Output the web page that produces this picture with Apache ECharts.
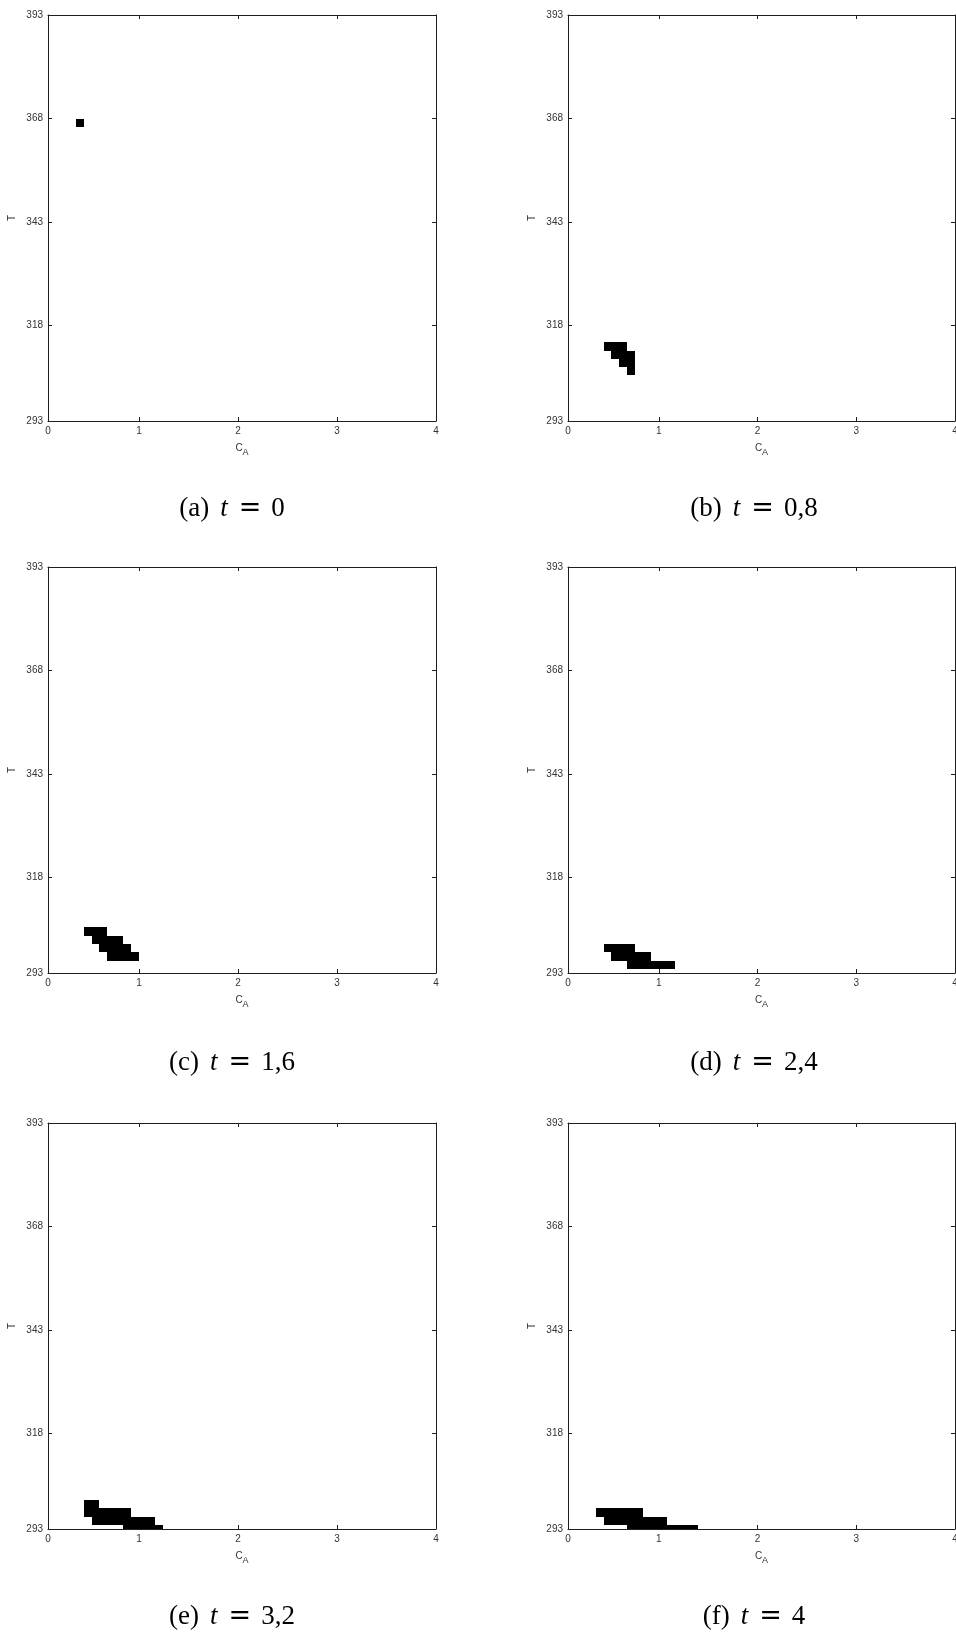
<!DOCTYPE html>
<html>
<head>
<meta charset="utf-8">
<script src="https://cdn.jsdelivr.net/npm/echarts@6/dist/echarts.min.js"></script>
<style>
  html, body { margin: 0; padding: 0; background: #fff; }
  #chart { width: 956px; height: 1634px; }
</style>
</head>
<body>
<div id="chart"></div>
<script>
// Axis ranges of the phase plane (concentration C_A, temperature T)
const cAMin = 0.08, cAMax = 4;
const tMin = 295, tMax = 393;
const xTickValues = [0.08, 1, 2, 3, 4];
const xTickLabels = ['0', '1', '2', '3', '4'];
const yTickValues = [295, 318, 343, 368, 393];
const yTickLabels = ['293', '318', '343', '368', '393'];

// One occupied cell of the state grid, in axis units
const cellW = 0.08, cellH = 2;

const panelTags = ['a', 'b', 'c', 'd', 'e', 'f'];
const panelTimes = ['0', '0,8', '1,6', '2,4', '3,2', '4'];

// Occupied cells [C_A, T] at each time instant
const cellsA = [[0.40, 367]];
const cellsB = [
  [0.48, 313], [0.56, 313], [0.64, 313],
  [0.56, 311], [0.64, 311], [0.72, 311],
  [0.64, 309], [0.72, 309],
  [0.72, 307]
];
const cellsC = [
  [0.48, 305], [0.56, 305], [0.64, 305],
  [0.56, 303], [0.64, 303], [0.72, 303], [0.80, 303],
  [0.64, 301], [0.72, 301], [0.80, 301], [0.88, 301],
  [0.72, 299], [0.80, 299], [0.88, 299], [0.96, 299]
];
const cellsD = [
  [0.48, 301], [0.56, 301], [0.64, 301], [0.72, 301],
  [0.56, 299], [0.64, 299], [0.72, 299], [0.80, 299], [0.88, 299],
  [0.72, 297], [0.80, 297], [0.88, 297], [0.96, 297], [1.04, 297], [1.12, 297]
];
const cellsE = [
  [0.48, 301], [0.56, 301],
  [0.48, 299], [0.56, 299], [0.64, 299], [0.72, 299], [0.80, 299], [0.88, 299],
  [0.56, 297], [0.64, 297], [0.72, 297], [0.80, 297], [0.88, 297], [0.96, 297], [1.04, 297], [1.12, 297],
  [0.88, 295], [0.96, 295], [1.04, 295], [1.12, 295], [1.20, 295]
];
const cellsF = [
  [0.40, 299], [0.48, 299], [0.56, 299], [0.64, 299], [0.72, 299], [0.80, 299],
  [0.48, 297], [0.56, 297], [0.64, 297], [0.72, 297], [0.80, 297], [0.88, 297], [0.96, 297], [1.04, 297],
  [0.72, 295], [0.80, 295], [0.88, 295], [0.96, 295], [1.04, 295], [1.12, 295], [1.20, 295], [1.28, 295], [1.36, 295]
];
const panels = [cellsA, cellsB, cellsC, cellsD, cellsE, cellsF];

// ---- layout ----
const colLeft = [48, 568];
const colWidth = [388, 387];
const rowTop = [15, 567, 1123];
const boxH = 406;
const captionX = [232, 754];
const captionY = [509, 1063, 1617];

const axisColor = '#1e1e1e';
const labelColor = '#333';
const sansFont = 'Liberation Sans, Arial, sans-serif';
const serifFont = 'Liberation Serif, Times New Roman, serif';

function lookup(values, labels, v) {
  for (let i = 0; i < values.length; i++) {
    if (Math.abs(values[i] - v) < 1e-6) return labels[i];
  }
  return '';
}

// Each cell is snapped to whole pixels so neighbouring cells join without seams
function renderCell(params, api) {
  const x = api.value(0), y = api.value(1);
  const p0 = api.coord([x - cellW / 2, y + cellH / 2]);
  const p1 = api.coord([x + cellW / 2, y - cellH / 2]);
  const x0 = Math.round(p0[0]), y0 = Math.round(p0[1]);
  const x1 = Math.round(p1[0]), y1 = Math.round(p1[1]);
  const cs = params.coordSys;
  const shape = echarts.graphic.clipRectByRect(
    { x: x0, y: y0, width: x1 - x0, height: y1 - y0 },
    { x: cs.x, y: cs.y, width: cs.width, height: cs.height }
  );
  return shape && { type: 'rect', shape: shape, style: { fill: '#000', stroke: null } };
}

const grids = [], xAxes = [], yAxes = [], series = [], graphics = [];

panels.forEach((cells, k) => {
  const col = k % 2, row = Math.floor(k / 2);
  grids.push({
    left: colLeft[col], top: rowTop[row], width: colWidth[col], height: boxH,
    outerBoundsMode: 'none', containLabel: false
  });

  const line = { show: true, onZero: false, lineStyle: { color: axisColor, width: 1 } };
  const labelStyle = { fontSize: 10, color: labelColor, fontFamily: sansFont };

  // bottom and top axes of the box
  xAxes.push({
    gridIndex: k, type: 'value', position: 'bottom', min: cAMin, max: cAMax,
    splitLine: { show: false }, axisLine: line,
    axisTick: { show: true, inside: true, length: 4, customValues: [1, 2, 3], lineStyle: { color: axisColor } },
    axisLabel: Object.assign({ customValues: xTickValues, margin: 5, hideOverlap: false,
      formatter: v => lookup(xTickValues, xTickLabels, v) }, labelStyle),
    name: '{c|C}{s|A}', nameLocation: 'middle', nameGap: 22,
    nameTextStyle: {
      rich: {
        c: { fontSize: 10, fontFamily: sansFont, color: labelColor, verticalAlign: 'top', lineHeight: 14 },
        s: { fontSize: 9, fontFamily: sansFont, color: labelColor, verticalAlign: 'bottom', lineHeight: 14 }
      }
    }
  });
  xAxes.push({
    gridIndex: k, type: 'value', position: 'top', min: cAMin, max: cAMax,
    splitLine: { show: false }, axisLine: line,
    axisTick: { show: true, inside: true, length: 4, customValues: [1, 2, 3], lineStyle: { color: axisColor } },
    axisLabel: { show: false }
  });

  // left and right axes of the box
  yAxes.push({
    gridIndex: k, type: 'value', position: 'left', min: tMin, max: tMax,
    splitLine: { show: false }, axisLine: line,
    axisTick: { show: true, inside: true, length: 4, customValues: [318, 343, 368], lineStyle: { color: axisColor } },
    axisLabel: Object.assign({ customValues: yTickValues, margin: 5,
      formatter: v => lookup(yTickValues, yTickLabels, v) }, labelStyle),
    name: 'T', nameLocation: 'middle', nameRotate: 90, nameGap: 31,
    nameTextStyle: { fontSize: 10, fontFamily: sansFont, color: labelColor }
  });
  yAxes.push({
    gridIndex: k, type: 'value', position: 'right', min: tMin, max: tMax,
    splitLine: { show: false }, axisLine: line,
    axisTick: { show: true, inside: true, length: 4, customValues: [318, 343, 368], lineStyle: { color: axisColor } },
    axisLabel: { show: false }
  });

  series.push({
    type: 'custom',
    xAxisIndex: 2 * k, yAxisIndex: 2 * k,
    data: cells,
    encode: { x: 0, y: 1 },
    renderItem: renderCell,
    silent: true
  });

  // caption "(x) t = value" below each panel
  graphics.push({
    type: 'text',
    x: captionX[col], y: captionY[row],
    style: {
      text: '{n|(' + panelTags[k] + ')}{i|t}{e|=}{n|' + panelTimes[k] + '}',
      align: 'center', verticalAlign: 'middle',
      fill: '#000',
      rich: {
        n: { fontSize: 27, fontFamily: serifFont, fill: '#000' },
        i: { fontSize: 27, fontFamily: serifFont, fontStyle: 'italic', fill: '#000', padding: [0, 0, 0, 11] },
        e: { fontSize: 27, fontFamily: 'DejaVu Serif, serif', fill: '#000', padding: [0, 10, 0, 11] }
      }
    }
  });
});

const chart = echarts.init(document.getElementById('chart'), null, { renderer: 'canvas' });
chart.setOption({
  backgroundColor: '#fff',
  animation: false,
  grid: grids,
  xAxis: xAxes,
  yAxis: yAxes,
  series: series,
  graphic: graphics
});
</script>
</body>
</html>
